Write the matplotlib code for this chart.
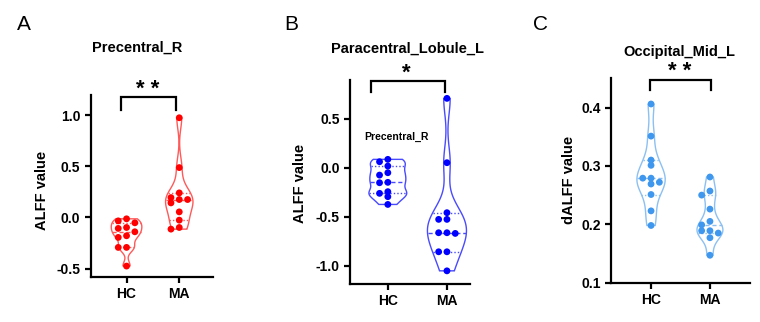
import numpy as np
import matplotlib
matplotlib.use("Agg")
import matplotlib.pyplot as plt

plt.rcParams['font.family'] = ['Liberation Sans', 'DejaVu Sans']
plt.rcParams['axes.unicode_minus'] = False

W, H = 760, 322

groups = ["HC", "MA"]

# A: Precentral_R (ALFF)
a_hc = [-0.013, -0.033, -0.052, -0.098, -0.107, -0.140, -0.179, -0.195, -0.293, -0.293, -0.476]
a_ma = [0.977, 0.489, 0.241, 0.195, 0.176, 0.176, 0.143, 0.055, -0.026, -0.098, -0.114]
# B: Paracentral_Lobule_L (ALFF)
b_hc = [0.085, 0.061, 0.017, -0.051, -0.075, -0.149, -0.153, -0.244, -0.261, -0.295, -0.374]
b_ma = [0.706, 0.051, -0.458, -0.526, -0.526, -0.662, -0.662, -0.669, -0.856, -0.856, -1.05]
# C: Occipital_Mid_L (dALFF)
c_hc = [0.406, 0.351, 0.310, 0.301, 0.279, 0.279, 0.272, 0.269, 0.251, 0.223, 0.198]
c_ma = [0.281, 0.257, 0.250, 0.226, 0.205, 0.199, 0.189, 0.189, 0.185, 0.177, 0.147]

titles = ["Precentral_R", "Paracentral_Lobule_L", "Occipital_Mid_L"]
ylabels = ["ALFF value", "ALFF value", "dALFF value"]
letters = ["A", "B", "C"]
stars = ["* *", "*", "* *"]


def frac(x0, y0, x1, y1):
    # pixel box -> figure rect
    return [x0 / W, 1 - y1 / H, (x1 - x0) / W, (y1 - y0) / H]


panels = [
    dict(rect=frac(90.7, 95, 213, 276.7), data=(a_hc, a_ma), ylim=(-0.58, 1.2),
         xlim=(-0.68, 1.64), yticks=[-0.5, 0.0, 0.5, 1.0],
         point="#ff0000", edge="#ff5a5a", widths=(0.29, 0.26),
         bracket=(-0.11, 0.93, 1.056, 1.18), star_xy=(0.41, 1.25),
         title_xy=(137.5, 48), ylab_xy=(41.7, 190), letter_xy=(24, 25)),
    dict(rect=frac(350, 80, 470, 284), data=(b_hc, b_ma), ylim=(-1.184, 0.893),
         xlim=(-0.64, 1.39), yticks=[-1.0, -0.5, 0.0, 0.5],
         point="#0000ff", edge="#4a4aff", widths=(0.32, 0.33),
         bracket=(-0.29, 0.96, 0.774, 0.883), star_xy=(0.32, 0.965),
         title_xy=(407, 49), ylab_xy=(300, 183), letter_xy=(291, 25)),
    dict(rect=frac(611, 78.3, 750, 282.7), data=(c_hc, c_ma), ylim=(0.1, 0.45),
         xlim=(-0.68, 1.68), yticks=[0.1, 0.2, 0.3, 0.4],
         point="#3f97ee", edge="#8cc0f2", widths=(0.24, 0.22),
         bracket=(-0.02, 1.01, 0.4305, 0.4465), star_xy=(0.49, 0.461),
         title_xy=(679, 52), ylab_xy=(569, 180), letter_xy=(541, 25)),
]


def kde(vals, grid, bw):
    d = (grid[:, None] - vals[None, :]) / bw
    return np.exp(-0.5 * d ** 2).sum(axis=1)


def draw_violin(ax, pos, vals, half, color, bw_frac=0.35):
    v = np.asarray(vals, dtype=float)
    bw = bw_frac * v.std(ddof=1)
    y = np.linspace(v.min(), v.max(), 300)
    w = kde(v, y, bw)
    w = w / w.max() * half
    xs = np.concatenate([pos + w, (pos - w)[::-1]])
    ys = np.concatenate([y, y[::-1]])
    ax.fill(xs, ys, facecolor="none", edgecolor=color, lw=1.0, zorder=2)
    q1, med, q3 = np.percentile(v, [25, 50, 75], method="weibull")
    for q, ls in ((q1, (0, (1, 1.5))), (med, (0, (3, 2))), (q3, (0, (1, 1.5)))):
        wq = np.interp(q, y, w)
        ax.plot([pos - wq, pos + wq], [q, q], color=color, ls=ls, lw=1.0, zorder=2)


def swarm(vals, ypx, xpx, diam=5.0, step=8.3):
    placed, offs = [], []
    for v in vals:
        yy = v * ypx
        for k in (0, -1, 1, -2, 2, -3, 3):
            xx = k * step
            if all((xx - px) ** 2 + (yy - py) ** 2 >= diam ** 2 for px, py in placed):
                break
        placed.append((xx, yy))
        offs.append(xx / xpx)
    return np.array(offs)


fig = plt.figure(figsize=(W / 100, H / 100), dpi=100)

for i, p in enumerate(panels):
    ax = fig.add_axes(p["rect"])
    ax.set_xlim(*p["xlim"])
    ax.set_ylim(*p["ylim"])
    ypx = p["rect"][3] * H / (p["ylim"][1] - p["ylim"][0])
    xpx = p["rect"][2] * W / (p["xlim"][1] - p["xlim"][0])

    for g, vals in enumerate(p["data"]):
        draw_violin(ax, g, vals, p["widths"][g], p["edge"])
        offs = swarm(vals, ypx, xpx)
        ax.scatter(g + offs, vals, s=24, color=p["point"], edgecolor="none", zorder=3)

    for side in ("top", "right"):
        ax.spines[side].set_visible(False)
    for side in ("left", "bottom"):
        ax.spines[side].set_linewidth(1.6)
    ax.set_xticks([0, 1])
    ax.set_xticklabels(groups, fontsize=10, fontweight="bold")
    ax.set_yticks(p["yticks"])
    ax.set_yticklabels([f"{t:.1f}" for t in p["yticks"]], fontsize=10, fontweight="bold")
    ax.tick_params(width=1.6, length=4.5, pad=3)

    x0, x1, ylo, yhi = p["bracket"]
    ax.plot([x0, x0, x1, x1], [ylo, yhi, yhi, ylo], color="black", lw=1.6,
            clip_on=False, solid_joinstyle="miter")
    ax.text(p["star_xy"][0], p["star_xy"][1], stars[i], fontsize=16, fontweight="bold",
            ha="center", va="center", clip_on=False)

    tx, ty = p["title_xy"]
    fig.text(tx / W, 1 - ty / H, titles[i], fontsize=10.5, fontweight="bold",
             ha="center", va="center")
    lx, ly = p["ylab_xy"]
    fig.text(lx / W, 1 - ly / H, ylabels[i], fontsize=10.5, fontweight="bold",
             rotation=90, ha="center", va="center")
    cx, cy = p["letter_xy"]
    fig.text(cx / W, 1 - cy / H, letters[i], fontsize=15, ha="center", va="center")

    if i == 1:
        ax.text(0.15, 0.31, "Precentral_R", fontsize=7.5, fontweight="bold",
                ha="center", va="center")

fig.savefig("out.png", dpi=100)
